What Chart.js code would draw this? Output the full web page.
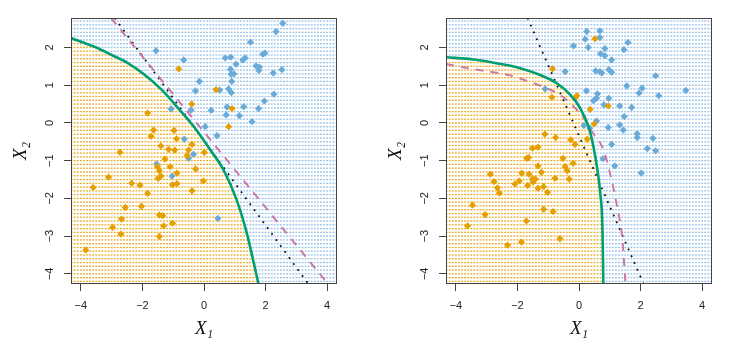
<!DOCTYPE html>
<html><head><meta charset="utf-8">
<script src="https://cdn.jsdelivr.net/npm/chart.js@4/dist/chart.umd.min.js"></script>
<style>
html,body{margin:0;padding:0;background:#fff;}
#wrap{position:relative;width:749px;height:356px;overflow:hidden;}
canvas{position:absolute;top:0;}
#c1{left:0;} #c2{left:375px;}
</style></head><body>
<div id="wrap"><canvas id="c1" width="374" height="356"></canvas><canvas id="c2" width="374" height="356"></canvas></div>
<script>
// ---- axes ----
const xTicks = [-4, -2, 0, 2, 4];
const xTickLabels = ['−4', '−2', '0', '2', '4'];
const yTicks = [-4, -3, -2, -1, 0, 1, 2];
const yTickLabels = ['−4', '−3', '−2', '−1', '0', '1', '2'];
const xTitle = 'X₁';
const yTitle = 'X₂';
const xRange = [-4.32, 4.32];
const yRange = [-4.27, 2.78];

// ---- left panel ----
const leftOrangeX = [-0.82,0.39,0.91,-0.40,-1.83,-1.64,-0.97,0.80,-1.72,-0.89,-0.39,-1.40,-1.15,-0.95,-0.50,0.01,-2.73,-0.55,-1.27,-1.10,-1.51,-1.45,-0.27,-1.40,-1.49,-0.88,-3.10,-0.02,-2.35,-2.08,-1.02,-0.88,-3.60,-0.39,-1.83,-2.56,-2.03,-1.45,-1.34,-2.68,-1.02,-2.97,-1.31,-2.70,-1.45,-3.84];
const leftOrangeY = [1.43,0.88,0.38,0.50,0.26,-0.19,-0.20,-0.10,-0.36,-0.42,-0.57,-0.61,-0.70,-0.72,-0.72,-0.78,-0.78,-0.87,-0.96,-1.16,-1.16,-1.27,-1.22,-1.41,-1.47,-1.33,-1.44,-1.54,-1.60,-1.65,-1.64,-1.61,-1.71,-1.80,-1.87,-2.24,-2.21,-2.44,-2.46,-2.55,-2.66,-2.77,-2.73,-2.95,-3.01,-3.37];
const leftBlueX = [2.56,2.34,1.51,-1.56,-0.66,0.69,0.87,1.26,1.34,1.91,1.98,1.04,1.69,1.80,1.78,0.86,2.25,2.53,0.88,0.97,-0.15,0.90,-0.28,0.51,0.80,0.89,2.27,1.96,-1.07,-0.42,0.23,0.75,1.29,1.77,0.72,1.15,1.56,0.04,0.42,-0.64,-0.34,-0.50,-1.54,-1.04,0.45];
const leftBlueY = [2.64,2.42,2.14,1.91,1.67,1.72,1.74,1.67,1.72,1.82,1.85,1.56,1.51,1.48,1.39,1.42,1.32,1.41,1.29,1.30,1.10,1.10,0.85,0.87,0.90,0.80,0.76,0.58,0.37,0.34,0.33,0.42,0.43,0.38,0.21,0.19,0.03,-0.10,-0.34,-0.43,-0.83,-0.94,-1.09,-1.41,-2.53];
const leftGreenX = [-4.32,-3.54,-3.00,-2.46,-1.92,-1.38,-0.84,-0.29,0.20,0.63,1.06,1.39,1.77];
const leftGreenY = [2.25,2.01,1.80,1.58,1.27,0.88,0.39,-0.14,-0.71,-1.24,-2.04,-2.92,-4.27];
const leftPurpleX = [-3.02,4.03];
const leftPurpleY = [2.78,-4.27];
const leftBlackX = [-2.90,3.39];
const leftBlackY = [2.78,-4.27];

// ---- right panel ----
const rightOrangeX = [0.52,-0.86,-0.07,-0.13,-0.88,0.36,0.95,0.49,-1.11,-0.76,-0.27,0.27,-0.13,-1.51,-1.33,-1.70,-1.64,-0.52,-1.33,-0.45,-0.38,-0.19,-1.22,-2.88,-1.86,-1.62,-1.51,-1.42,-1.49,-0.78,-0.32,-2.76,-1.94,-2.08,-2.65,-2.59,-1.67,-1.33,-1.15,-1.02,-3.46,-1.15,-0.84,-3.05,-1.71,-3.62,-0.62,-1.87,-2.32];
const rightOrangeY = [2.23,1.43,0.72,0.65,0.68,0.36,0.45,-0.03,-0.30,-0.39,-0.45,-0.43,-0.57,-0.67,-0.64,-0.94,-0.92,-0.94,-1.14,-1.16,-1.27,-1.07,-1.31,-1.36,-1.33,-1.36,-1.49,-1.49,-1.57,-1.47,-1.49,-1.56,-1.54,-1.62,-1.72,-1.86,-1.66,-1.73,-1.69,-1.84,-2.18,-2.29,-2.35,-2.43,-2.60,-2.73,-3.07,-3.16,-3.24];
const rightBlueX = [0.25,0.68,0.20,0.68,-0.18,0.30,1.59,1.46,0.84,0.70,0.84,1.06,-0.45,0.54,0.74,0.68,0.97,1.06,2.49,3.47,1.55,2.05,1.95,2.59,-1.10,0.24,0.60,0.57,0.47,0.97,0.81,1.32,1.71,1.47,1.32,0.57,0.16,0.35,0.95,1.44,1.89,1.89,2.40,1.06,2.22,2.49,0.78,1.16,2.02];
const rightBlueY = [2.42,2.44,2.22,2.26,2.04,2.00,2.13,1.94,1.97,1.83,1.78,1.67,1.36,1.38,1.32,1.36,1.41,1.34,1.25,0.86,0.98,0.92,0.79,0.72,0.90,0.85,0.77,0.65,0.59,0.65,0.48,0.45,0.41,0.17,-0.05,0.05,-0.07,-0.14,-0.12,-0.19,-0.29,-0.39,-0.41,-0.57,-0.68,-0.74,-0.95,-1.14,-1.33];
const rightGreenX = [-4.32,-3.40,-2.60,-1.91,-1.26,-0.72,-0.28,0.04,0.31,0.47,0.59,0.69,0.76,0.79];
const rightGreenY = [1.74,1.68,1.57,1.45,1.27,1.05,0.74,0.39,-0.10,-0.63,-1.20,-1.86,-2.75,-4.27];
const rightPurpleX = [-4.32,-3.40,-2.29,-1.64,-1.15,-0.61,-0.23,0.15,0.42,0.75,0.91,1.03,1.24,1.41,1.51];
const rightPurpleY = [1.56,1.42,1.27,1.10,0.95,0.74,0.48,0.13,-0.23,-0.63,-1.02,-1.42,-2.22,-3.10,-4.27];
const rightBlackX = [-1.67,2.10];
const rightBlackY = [2.78,-4.27];

const ORANGE = '#E69F00';
const BLUE = '#6AAAD8';
const GREEN = '#009E73';
const PURPLE = '#CC79A7';

const zip = (xs, ys) => xs.map((x, i) => ({x: x, y: ys[i]}));

function boundaryAt(bx, by, y) {
  if (y > by[0]) return -Infinity;
  for (let i = 0; i < by.length - 1; i++) {
    const y0 = by[i], y1 = by[i + 1];
    if (y <= y0 && y >= y1) {
      const t = (y - y0) / (y1 - y0);
      return bx[i] + t * (bx[i + 1] - bx[i]);
    }
  }
  return bx[bx.length - 1];
}

const regionPlugin = {
  id: 'region',
  beforeDatasetsDraw(chart) {
    const {ctx, chartArea, scales} = chart;
    const b = chart.options.plugins.region;
    ctx.save();
    ctx.beginPath();
    ctx.rect(chartArea.left, chartArea.top, chartArea.right - chartArea.left, chartArea.bottom - chartArea.top);
    ctx.clip();
    for (let j = -42; j <= 27; j++) {
      const gy = j / 10;
      const xb = boundaryAt(b.bx, b.by, gy);
      const py = scales.y.getPixelForValue(gy);
      for (let i = -43; i <= 43; i++) {
        const gx = i / 10;
        const px = scales.x.getPixelForValue(gx);
        ctx.fillStyle = gx < xb ? 'rgba(232,160,0,0.9)' : 'rgba(100,165,222,0.7)';
        ctx.fillRect(px - 0.9, py - 0.6, 1.8, 1.3);
      }
    }
    ctx.restore();
  },
  afterDraw(chart) {
    const {ctx, chartArea} = chart;
    ctx.save();
    ctx.strokeStyle = '#444';
    ctx.lineWidth = 1;
    ctx.strokeRect(chartArea.left + 0.5, chartArea.top + 0.5, chartArea.right - chartArea.left - 1, chartArea.bottom - chartArea.top - 1);
    ctx.restore();
  }
};

function makePanel(id, p) {
  const tickFont = {family: "'Liberation Sans', Arial, sans-serif", size: 11};
  const titleFont = {family: "'Liberation Serif', 'DejaVu Serif', serif", size: 19, style: 'italic'};
  return new Chart(document.getElementById(id), {
    type: 'scatter',
    data: {
      datasets: [
        {type: 'line', data: zip(p.gx, p.gy), borderColor: GREEN, borderWidth: 2.6, pointRadius: 0, cubicInterpolationMode: 'monotone', fill: false},
        {type: 'line', data: zip(p.px, p.py), borderColor: PURPLE, borderWidth: 2, borderDash: [8, 7], pointRadius: 0, cubicInterpolationMode: 'monotone', fill: false},
        {type: 'line', data: zip(p.kx, p.ky), borderColor: '#111', borderWidth: 1.8, borderDash: [1.8, 5.6], pointRadius: 0, tension: 0, fill: false},
        {data: zip(p.ox, p.oy), backgroundColor: ORANGE, borderWidth: 0, pointStyle: 'rectRot', pointRadius: 3.6},
        {data: zip(p.bx2, p.by2), backgroundColor: BLUE, borderWidth: 0, pointStyle: 'rectRot', pointRadius: 3.6}
      ]
    },
    options: {
      responsive: false,
      animation: false,
      events: [],
      layout: {padding: {top: 18, right: 37, left: 0, bottom: 0}},
      plugins: {legend: {display: false}, tooltip: {enabled: false}, region: {bx: p.gx, by: p.gy}},
      scales: {
        x: {
          type: 'linear', min: xRange[0], max: xRange[1],
          afterBuildTicks: s => { s.ticks = xTicks.map(v => ({value: v})); },
          afterFit: s => { s.height = 72; },
          grid: {drawOnChartArea: false, drawTicks: true, tickLength: 7, tickColor: '#444', lineWidth: 1},
          border: {display: false},
          ticks: {font: tickFont, color: '#222', padding: 8, maxRotation: 0, minRotation: 0,
                  callback: v => xTickLabels[xTicks.indexOf(v)]},
          title: {display: true, text: xTitle, font: titleFont, color: '#111', padding: {top: 0, bottom: 16}}
        },
        y: {
          type: 'linear', min: yRange[0], max: yRange[1],
          afterBuildTicks: s => { s.ticks = yTicks.map(v => ({value: v})); },
          afterFit: s => { s.width = 71; },
          grid: {drawOnChartArea: false, drawTicks: true, tickLength: 7, tickColor: '#444', lineWidth: 1},
          border: {display: false},
          ticks: {font: tickFont, color: '#222', padding: 8, minRotation: 90, maxRotation: 90, crossAlign: 'center',
                  callback: v => yTickLabels[yTicks.indexOf(v)]},
          title: {display: true, text: yTitle, font: titleFont, color: '#111', padding: {top: 10, bottom: 0}}
        }
      }
    },
    plugins: [regionPlugin]
  });
}

makePanel('c1', {ox: leftOrangeX, oy: leftOrangeY, bx2: leftBlueX, by2: leftBlueY,
  gx: leftGreenX, gy: leftGreenY, px: leftPurpleX, py: leftPurpleY, kx: leftBlackX, ky: leftBlackY});
makePanel('c2', {ox: rightOrangeX, oy: rightOrangeY, bx2: rightBlueX, by2: rightBlueY,
  gx: rightGreenX, gy: rightGreenY, px: rightPurpleX, py: rightPurpleY, kx: rightBlackX, ky: rightBlackY});
</script>
</body></html>
